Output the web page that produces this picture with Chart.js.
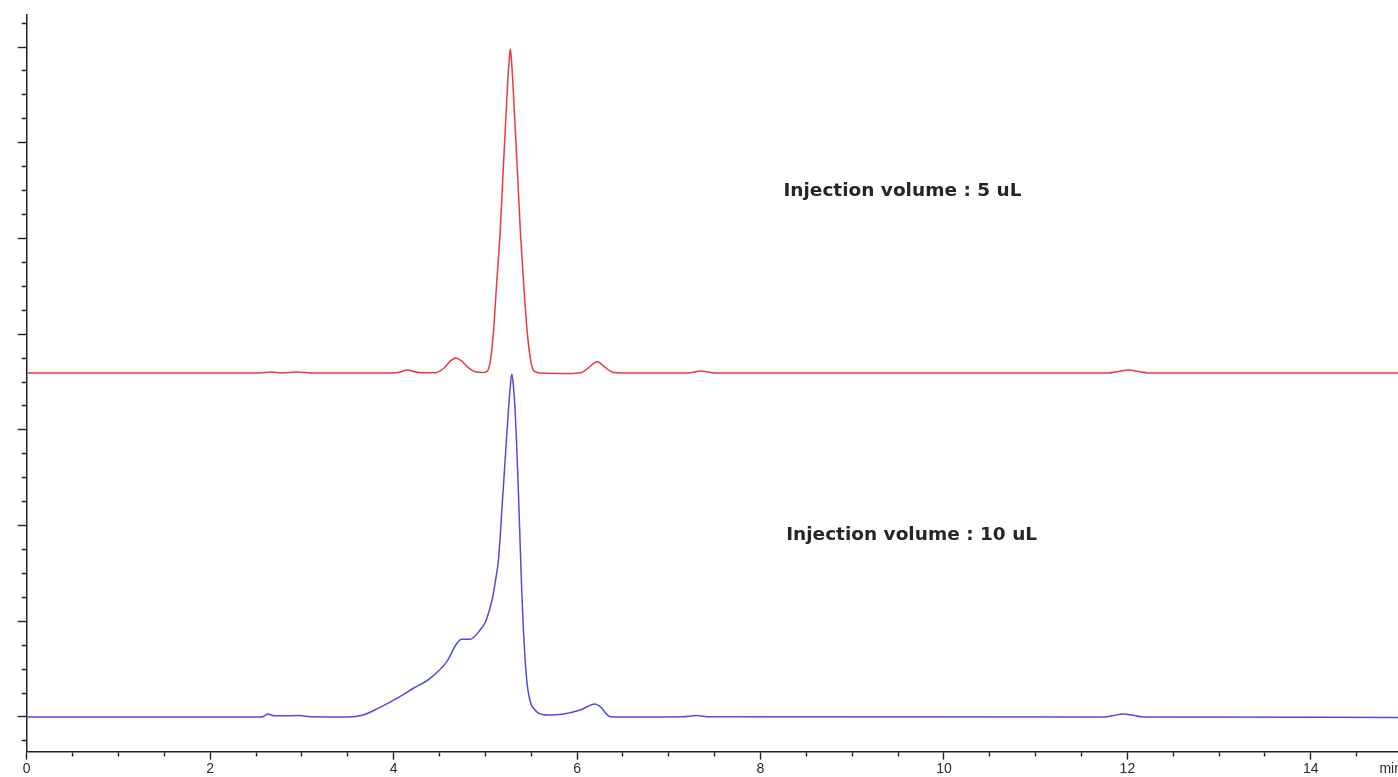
<!DOCTYPE html>
<html>
<head>
<meta charset="utf-8">
<script src="https://cdn.jsdelivr.net/npm/chart.js@4.4.1/dist/chart.umd.min.js"></script>
<style>
    html, body { margin: 0; padding: 0; background: #fff; }
    canvas { display: block; }
</style>
</head>
<body>
<canvas id="chromatogram" width="1398" height="777"></canvas>
<script>
Chart.defaults.font.family = "'Liberation Sans', Arial, sans-serif";
Chart.defaults.color = "#2a2a2a";

// retention time (min) and detector response
const redTime = [
    0, 2.55, 2.66, 2.78, 2.95, 3.1, 3.9, 4.05, 4.15, 4.27, 4.45, 4.55, 4.62, 4.68, 4.74, 4.82,
    4.9, 4.97, 5.0, 5.03, 5.055, 5.09, 5.125, 5.163, 5.19, 5.217, 5.245, 5.26, 5.272, 5.285,
    5.299, 5.327, 5.355, 5.381, 5.42, 5.455, 5.49, 5.515, 5.545, 5.6, 5.9, 6.05, 6.12, 6.22,
    6.3, 6.38, 6.5, 7.2, 7.35, 7.5, 11.8, 11.9, 12.01, 12.12, 12.22, 14.95,
];
const redSignal = [
    359.5, 359.5, 360.5, 359.5, 360.5, 359.5, 359.5, 360, 362.5, 359.9, 359.6, 364.6, 372, 375, 372, 364.6,
    360.5, 360, 360.3, 362.5, 372, 404, 455, 509, 562, 613, 665, 686, 698, 686,
    665, 613, 560, 509, 450, 404, 375, 364, 360.5, 359.5, 359, 360, 364.6, 371.2,
    365.7, 360.5, 359.5, 359.5, 361.5, 359.5, 359.5, 361, 362.5, 361, 359.5, 359.5,
];

const blueTime = [
    0, 2.55, 2.58, 2.63, 2.7, 2.8, 2.97, 3.1, 3.5, 3.667, 3.84, 4.035, 4.216, 4.398, 4.58,
    4.69, 4.744, 4.834, 4.943, 5.0, 5.034, 5.06, 5.088, 5.115, 5.143, 5.162, 5.18, 5.198,
    5.216, 5.234, 5.252, 5.27, 5.289, 5.307, 5.325, 5.343, 5.361, 5.38, 5.398, 5.416, 5.434,
    5.452, 5.47, 5.5, 5.525, 5.57, 5.62, 5.671, 5.852, 6.034, 6.197, 6.252, 6.361, 6.5, 7.15,
    7.3, 7.45, 11.75, 11.85, 11.95, 12.05, 12.15, 12.3, 14.95,
];
const blueSignal = [
    0, 0, 0.5, 3, 1.2, 1.2, 1.4, 0.3, 0, 2.1, 9.5, 19.5, 30, 40.4, 57.8,
    77, 81.2, 81.2, 90.9, 99, 108.3, 117, 129.2, 145, 164, 188, 216.3, 242,
    268.5, 295, 320.8, 343, 358.4, 345, 320.8, 280, 234, 180, 129.2, 90, 59.6,
    38, 25, 13, 9.1, 4.5, 2.6, 2.1, 3.1, 7.3, 13.6, 10.8, 0.3, 0, 0.3,
    1.4, 0.2, 0, 1.5, 3.1, 2, 0.3, 0, -0.5,
];

const seriesLabels = ["Injection volume : 5 uL", "Injection volume : 10 uL"];

// axis ticks: every 0.5 min with a label every 2 min, y every 25 with a long tick every 100
const xTickValues = [];
for (let t = 0; t <= 14.5; t += 0.5) xTickValues.push(t);
const xLabelValues = [0, 2, 4, 6, 8, 10, 12, 14];
const xUnitLabel = "min";
const xUnitAt = 14.87;
const yTickValues = [];
for (let v = -25; v <= 725; v += 25) yTickValues.push(v);
const yMajorValues = [0, 100, 200, 300, 400, 500, 600, 700];

const colors = {
    red: "#e63b46",
    blue: "#4d4ddd",
    axis: "#222222",
};

function toPoints(times, values) {
    return times.map((t, i) => ({ x: t, y: values[i] }));
}

function makeDataset(label, color, times, values) {
    return {
        label: label,
        data: toPoints(times, values),
        borderColor: color,
        borderWidth: 1.5,
        pointRadius: 0,
        fill: false,
        cubicInterpolationMode: 'monotone',
    };
}

// writes the injection volume next to each trace, placed in data units
const traceLabels = {
    id: 'traceLabels',
    afterDatasetsDraw(chart, args, opts) {
        const ctx = chart.ctx;
        const { x, y } = chart.scales;
        ctx.save();
        ctx.font = "bold 18.5px 'DejaVu Sans', sans-serif";
        ctx.fillStyle = "#262626";
        ctx.textAlign = 'left';
        ctx.textBaseline = 'middle';
        opts.items.forEach(item => {
            ctx.fillText(item.text, x.getPixelForValue(item.x), y.getPixelForValue(item.y));
        });
        ctx.restore();
    },
};

new Chart(document.getElementById("chromatogram"), {
    type: "line",
    data: {
        datasets: [
            makeDataset(seriesLabels[0], colors.red, redTime, redSignal),
            makeDataset(seriesLabels[1], colors.blue, blueTime, blueSignal),
        ],
    },
    options: {
        responsive: false,
        animation: false,
        events: [],
        layout: {
            padding: { top: 15, left: 0, right: 0, bottom: 0 },
        },
        scales: {
            x: {
                type: 'linear',
                min: 0,
                max: 14.95,
                afterBuildTicks: (scale) => {
                    scale.ticks = xTickValues.concat([xUnitAt]).map(v => ({ value: v }));
                },
                afterFit: (scale) => {
                    scale.height = 25.3;
                    scale.paddingLeft = 0;
                    scale.paddingRight = 0;
                },
                ticks: {
                    autoSkip: false,
                    maxRotation: 0,
                    padding: 1,
                    color: "#2a2a2a",
                    font: { size: 14 },
                    callback: (value) => {
                        if (value === xUnitAt) return xUnitLabel;
                        return xLabelValues.includes(value) ? String(value) : '';
                    },
                },
                grid: {
                    drawOnChartArea: false,
                    tickLength: 8,
                    tickWidth: 1.4,
                    tickColor: (ctx) => ctx.tick && ctx.tick.value === xUnitAt ? 'rgba(0,0,0,0)' : colors.axis,
                    tickBorderDash: (ctx) => ctx.tick && xLabelValues.includes(ctx.tick.value) ? [] : [4, 50],
                },
                border: { color: colors.axis, width: 1.5 },
            },
            y: {
                type: 'linear',
                min: -36.3,
                max: 733.5,
                afterBuildTicks: (scale) => {
                    scale.ticks = yTickValues.map(v => ({ value: v }));
                },
                afterFit: (scale) => {
                    scale.width = 26.7;
                    scale.paddingTop = 0;
                    scale.paddingBottom = 0;
                },
                ticks: { display: false },
                grid: {
                    drawOnChartArea: false,
                    tickLength: 9,
                    tickWidth: 1.4,
                    tickColor: colors.axis,
                    tickBorderDash: (ctx) => ctx.tick && yMajorValues.includes(ctx.tick.value) ? [] : [0, 4, 5, 50],
                },
                border: { color: colors.axis, width: 1.5 },
            },
        },
        plugins: {
            legend: { display: false },
            tooltip: { enabled: false },
            traceLabels: {
                items: [
                    { text: seriesLabels[0], x: 8.25, y: 549 },
                    { text: seriesLabels[1], x: 8.28, y: 190 },
                ],
            },
        },
    },
    plugins: [traceLabels],
});
</script>
</body>
</html>
